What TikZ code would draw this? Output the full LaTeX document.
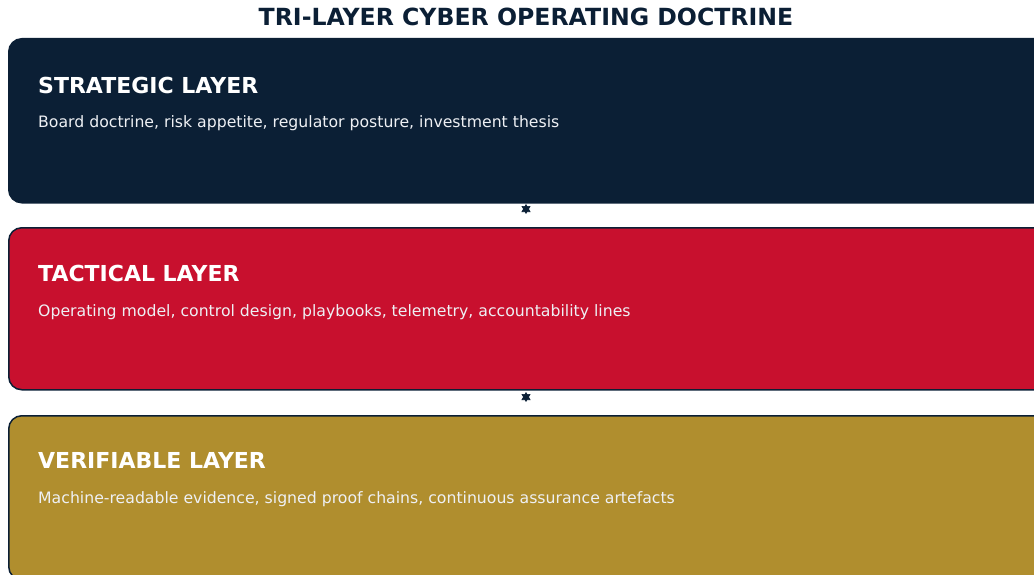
\documentclass[tikz,border=0pt]{standalone}
\usepackage{fontspec}
\setmainfont{DejaVu Sans}
\usetikzlibrary{arrows.meta}
\definecolor{navyc}{RGB}{11,31,53}
\definecolor{redc}{RGB}{200,16,46}
\definecolor{goldc}{RGB}{176,142,46}
\definecolor{textc}{RGB}{238,240,244}

\begin{document}
\begin{tikzpicture}[x=1pt, y=-1pt,
		layer/.style={draw=navyc, line width=1.5pt, rounded corners=13pt, anchor=north west,
			minimum width=1045pt, minimum height=#1, inner sep=0pt},
		head/.style={anchor=base west, text=white, font=\fontsize{22}{26}\selectfont\bfseries, inner sep=0pt},
		body/.style={anchor=base west, text=textc, font=\fontsize{15.7}{19}\selectfont, inner sep=0pt},
		link/.style={{Triangle[length=8pt,width=9pt]}-{Triangle[length=8pt,width=9pt]}, navyc, line width=0.6pt}]
		\useasboundingbox (0,0) rectangle (1034,575);
		
		\node[anchor=base, text=navyc, font=\fontsize{23.6}{28}\selectfont\bfseries, inner sep=0pt] (title) at (526,26) {TRI-LAYER CYBER OPERATING DOCTRINE};
		
		\node[layer=164pt, fill=navyc] (strat) at (8,38) {};
		\node[layer=162pt, fill=redc] (tact) at (8,227) {};
		\node[layer=164pt, fill=goldc] (verif) at (8,415) {};
		
		\node[head] (strath) at (38,93.5) {STRATEGIC LAYER};
		\node[body] (stratb) at (38,128) {Board doctrine, risk appetite, regulator posture, investment thesis};
		\node[head] (tacth) at (38,281) {TACTICAL LAYER};
		\node[body] (tactb) at (38,316) {Operating model, control design, playbooks, telemetry, accountability lines};
		\node[head] (verifh) at (38,468) {VERIFIABLE LAYER};
		\node[body] (verifb) at (38,503.5) {Machine-readable evidence, signed proof chains, continuous assurance artefacts};
		
		\coordinate (s1) at (526,204);
		\coordinate (t1) at (526,214);
		\coordinate (s2) at (526,392);
		\coordinate (t2) at (526,402);
		\draw[link] (s1) -- (t1);
		\draw[link] (s2) -- (t2);
\end{tikzpicture}
\end{document}
